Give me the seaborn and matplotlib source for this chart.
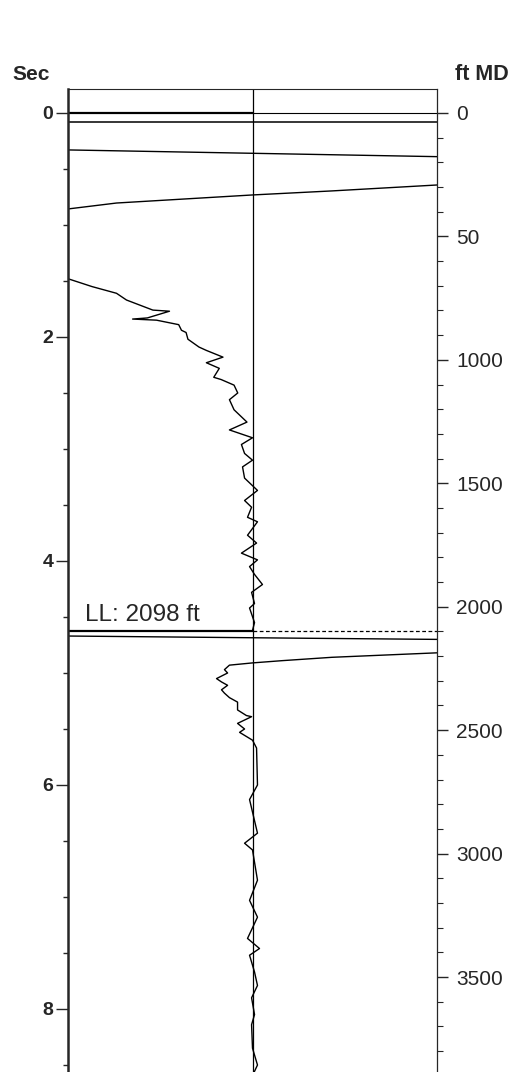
import matplotlib
matplotlib.use("Agg")
import matplotlib.pyplot as plt
import seaborn as sns
from matplotlib.ticker import FixedLocator, MultipleLocator

# time axis (s) and depth scale
FT_PER_SEC = 453.7
left_ticks = [0, 2, 4, 6, 8]
right_ticks = [0, 500, 1000, 1500, 2000, 2500, 3000, 3500]
right_labels = ["0", "50", "1000", "1500", "2000", "2500", "3000", "3500"]

# horizontal event lines near the top
line0_amp = [-1.0, 0.0]
line0_t = [0.0, 0.0]
line0b_amp = [0.0, 1.0]
line0b_t = [0.0, 0.0]
line1_amp = [-1.0, 1.0]
line1_t = [0.08, 0.08]
line2_amp = [-1.0, 0.0, 1.0]
line2_t = [0.33, 0.36, 0.39]
line3_amp = [-1.0, -0.737, 0.0, 0.43, 1.0]
line3_t = [0.857, 0.804, 0.732, 0.696, 0.643]

# upper trace
upper_amp = [-1.0, -0.87, -0.737, -0.683, -0.54, -0.45, -0.57, -0.65, -0.52, -0.40,
             -0.385, -0.36, -0.35, -0.29, -0.25, -0.16, -0.25, -0.18, -0.21, -0.17,
             -0.10, -0.08, -0.125, -0.10, -0.03, -0.125, 0.0, -0.06, -0.043, 0.0,
             -0.054, -0.043, 0.027, -0.043, -0.005, -0.027, 0.027, -0.027, 0.022, -0.06,
             0.027, -0.016, 0.011, 0.054, -0.005, 0.011, -0.016, 0.011, 0.0]
upper_t = [1.48, 1.55, 1.61, 1.67, 1.76, 1.77, 1.83, 1.84, 1.85, 1.89,
           1.94, 1.96, 2.02, 2.09, 2.12, 2.18, 2.23, 2.28, 2.36, 2.38,
           2.43, 2.50, 2.56, 2.65, 2.76, 2.83, 2.90, 2.96, 3.04, 3.10,
           3.16, 3.26, 3.37, 3.46, 3.52, 3.61, 3.65, 3.77, 3.84, 3.93,
           3.99, 4.05, 4.12, 4.21, 4.28, 4.38, 4.42, 4.55, 4.62]

# LL marker
ll_t = 4.625
ll_label = "LL: 2098 ft"
line4_amp = [-1.0, 0.3, 1.0]
line4_t = [4.67, 4.69, 4.70]

# lower trace
lower_amp = [1.0, 0.43, 0.16, 0.0, -0.125, -0.152, -0.135, -0.195, -0.168, -0.135,
             -0.168, -0.152, -0.125, -0.081, -0.081, -0.033, -0.005, -0.081, -0.043, -0.07,
             0.0, 0.022, 0.027, -0.016, 0.027, -0.043, 0.0, 0.027, -0.016, 0.027,
             -0.027, 0.038, -0.016, 0.011, 0.027, -0.005, 0.011, -0.005, 0.0, 0.027, 0.01]
lower_t = [4.82, 4.86, 4.89, 4.91, 4.93, 4.97, 5.00, 5.05, 5.08, 5.11,
           5.15, 5.18, 5.22, 5.26, 5.33, 5.38, 5.39, 5.45, 5.50, 5.53,
           5.60, 5.67, 6.00, 6.13, 6.43, 6.52, 6.58, 6.85, 7.03, 7.18,
           7.37, 7.46, 7.52, 7.67, 7.79, 7.90, 8.05, 8.14, 8.35, 8.50, 8.56]

sns.set_style("white")
plt.rcParams["font.family"] = ["Liberation Sans", "DejaVu Sans"]

fig = plt.figure(figsize=(5.18, 10.72), dpi=100)
ax = fig.add_axes([68 / 518, 0.0, 369 / 518, (1072 - 89) / 1072])

def trace(x, y, lw=1.0, ls="-"):
    sns.lineplot(x=x, y=y, sort=False, estimator=None, color="black",
                 linewidth=lw, linestyle=ls, ax=ax)

trace(line0_amp, line0_t, lw=1.6)
trace(line0b_amp, line0b_t, lw=0.8)
trace(line1_amp, line1_t, lw=1.1)
trace(line2_amp, line2_t)
trace(line3_amp, line3_t)
trace(upper_amp, upper_t)
trace([-1.0, 0.0], [ll_t, ll_t], lw=1.6)
trace([0.0, 1.0], [ll_t, ll_t], lw=0.9, ls=(0, (3, 2)))
trace(line4_amp, line4_t)
trace(lower_amp, lower_t)
ax.axvline(0.0, color="black", linewidth=0.9)

ax.text(-0.91, ll_t - 0.09, ll_label, fontsize=17.5, va="baseline", ha="left")

ax.set_xlim(-1.0, 1.0)
ax.set_ylim(8.5625, -0.214)
ax.set_xticks([])
ax.set_xlabel("")
ax.set_ylabel("")
ax.yaxis.set_major_locator(FixedLocator(left_ticks))
ax.yaxis.set_minor_locator(MultipleLocator(0.5))
ax.set_yticklabels([str(v) for v in left_ticks], fontsize=14, fontweight="bold")
ax.tick_params(axis="y", which="major", left=True, length=9, width=1.0, pad=1.5, direction="out")
ax.tick_params(axis="y", which="minor", left=True, length=3.5, width=1.0, direction="out")
ax.spines["left"].set_linewidth(1.8)
ax.spines["top"].set_linewidth(0.8)
ax.spines["right"].set_visible(False)
ax.spines["bottom"].set_visible(False)

ax2 = ax.twinx()
ax2.set_ylim(8.5625 * FT_PER_SEC, -0.214 * FT_PER_SEC)
ax2.yaxis.set_major_locator(FixedLocator(right_ticks))
ax2.yaxis.set_minor_locator(MultipleLocator(100))
ax2.set_yticklabels(right_labels, fontsize=15)
ax2.tick_params(axis="y", which="major", right=True, length=8, width=1.0, pad=6, direction="out")
ax2.tick_params(axis="y", which="minor", right=True, length=4.5, width=0.8, direction="out")
for side in ["left", "top", "bottom"]:
    ax2.spines[side].set_visible(False)
ax2.spines["right"].set_linewidth(0.9)

fig.text(12 / 518, 1 - 75 / 1072, "Sec", fontsize=15, fontweight="bold", va="center", ha="left")
fig.text(455 / 518, 1 - 74 / 1072, "ft MD", fontsize=15.5, fontweight="bold", va="center", ha="left")

fig.savefig("out.png", dpi=100)
plt.close(fig)
